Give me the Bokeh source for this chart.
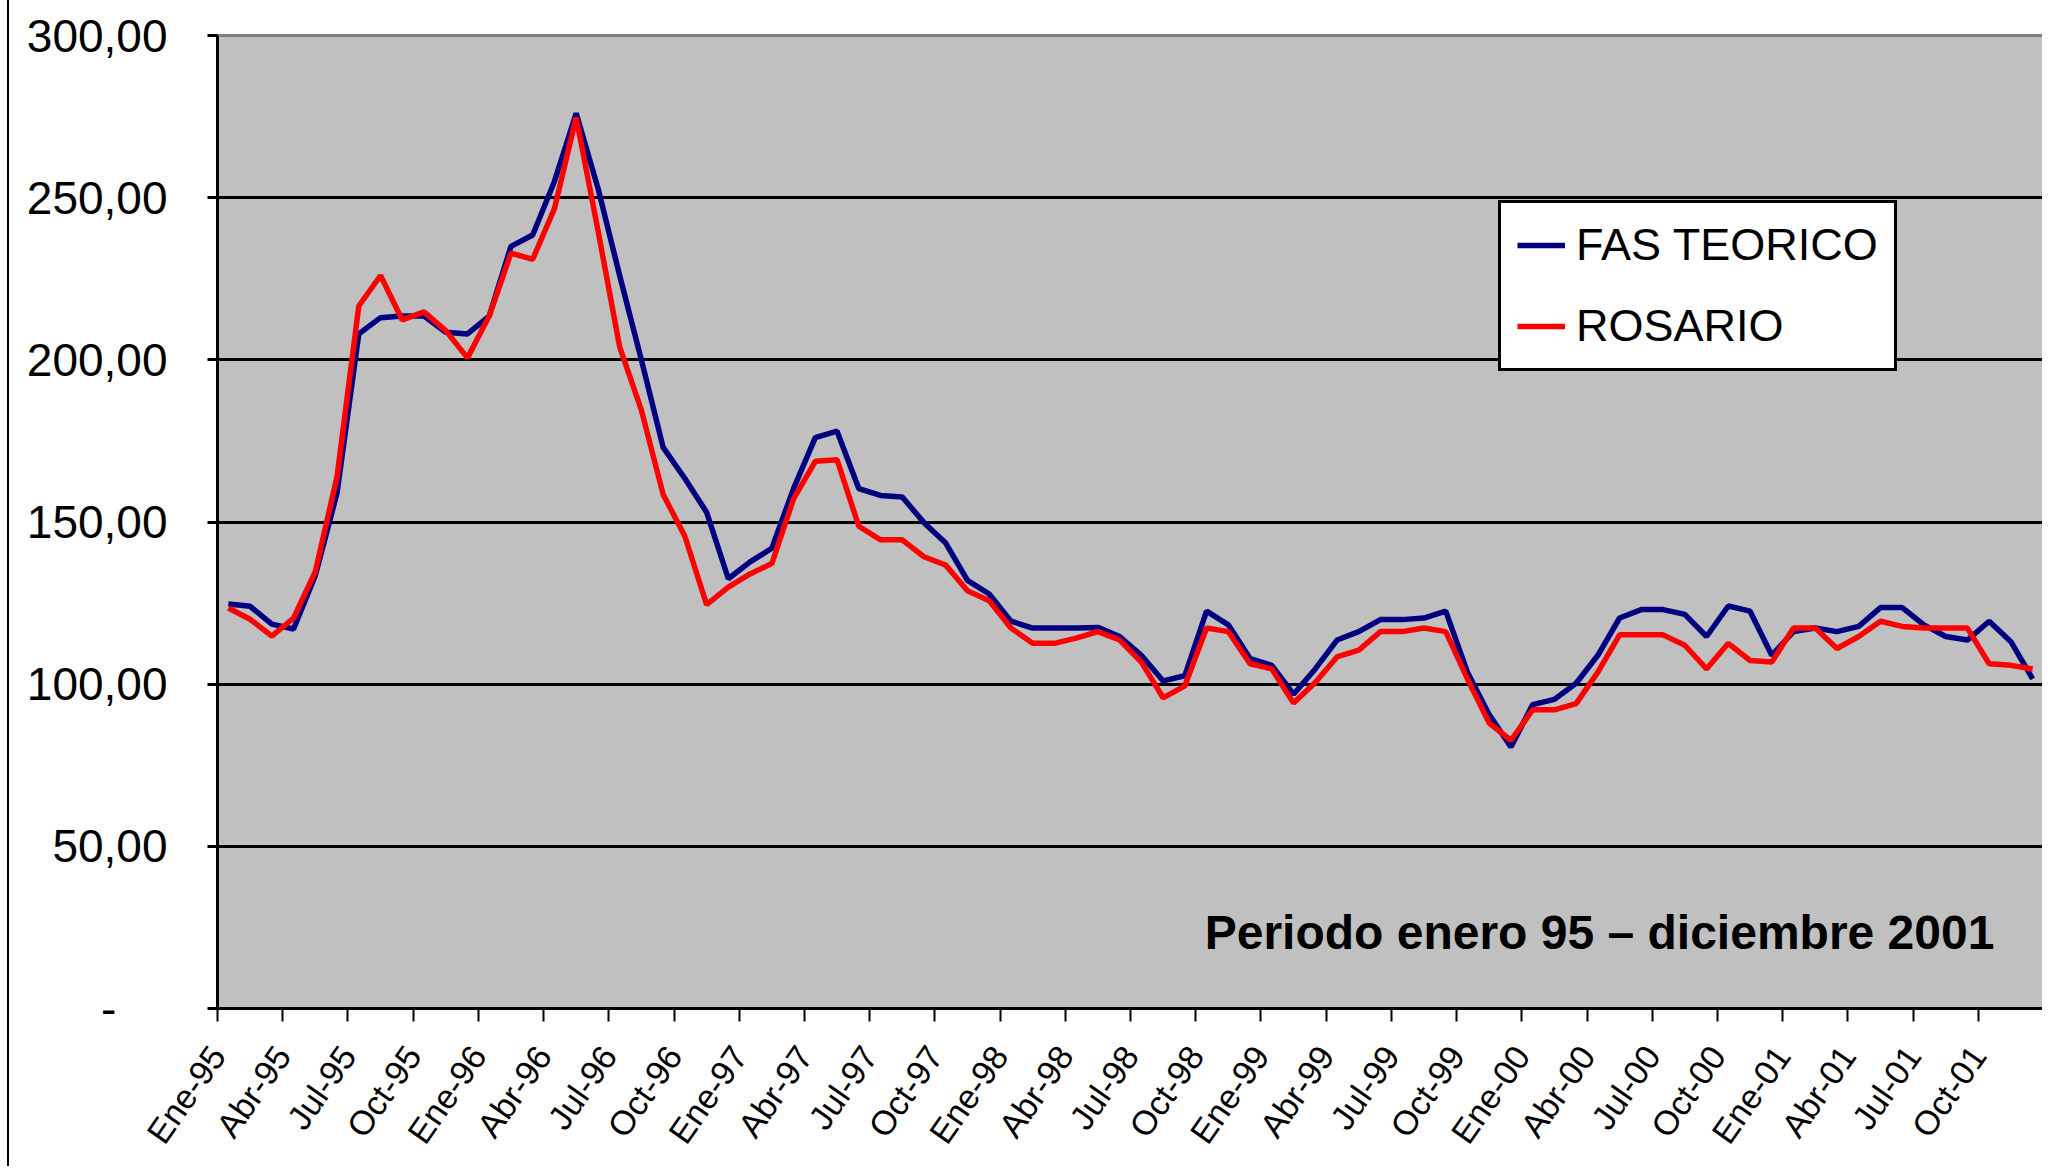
from bokeh.plotting import figure
from bokeh.models import FixedTicker, Legend, LegendItem, Label
from bokeh.embed import file_html
from bokeh.resources import INLINE

quarter_labels = ["Ene-95", "Abr-95", "Jul-95", "Oct-95",
                  "Ene-96", "Abr-96", "Jul-96", "Oct-96",
                  "Ene-97", "Abr-97", "Jul-97", "Oct-97",
                  "Ene-98", "Abr-98", "Jul-98", "Oct-98",
                  "Ene-99", "Abr-99", "Jul-99", "Oct-99",
                  "Ene-00", "Abr-00", "Jul-00", "Oct-00",
                  "Ene-01", "Abr-01", "Jul-01", "Oct-01"]

fas_teorico = [124.7, 124.0, 118.5, 117.0, 133.5, 159.0, 208.0, 213.0, 213.5, 213.5, 208.5, 208.0,
               213.5, 235.0, 238.5, 255.0, 276.0, 253.0, 226.0, 200.0, 173.0, 163.4, 153.0, 132.5,
               137.7, 141.9, 160.3, 176.0, 178.0, 160.3, 158.2, 157.7, 149.8, 143.5, 132.0, 127.8,
               119.4, 117.3, 117.3, 117.3, 117.5, 114.7, 108.9, 101.0, 102.6, 122.5, 118.3, 107.9,
               105.8, 96.9, 104.7, 113.6, 116.2, 119.9, 119.9, 120.4, 122.5, 103.7, 90.6, 80.6,
               93.7, 95.3, 100.3, 108.9, 120.4, 123.0, 123.0, 121.5, 114.7, 124.1, 122.5, 108.9,
               116.2, 117.3, 116.2, 117.8, 123.6, 123.6, 118.3, 114.7, 113.6, 119.4, 113.1, 101.6]

rosario = [123.5, 120.0, 114.8, 120.4, 134.7, 164.0, 216.6, 226.0, 212.3, 214.8, 209.0, 200.6,
           213.5, 232.9, 231.0, 246.6, 274.7, 240.0, 204.0, 184.5, 158.5, 145.6, 124.5, 129.9,
           134.0, 137.2, 157.1, 168.7, 169.2, 148.7, 144.5, 144.5, 139.3, 136.7, 128.8, 125.7,
           117.3, 112.6, 112.6, 114.2, 116.2, 113.6, 106.8, 95.8, 99.5, 117.3, 116.2, 106.3,
           104.7, 94.2, 100.5, 108.4, 110.5, 116.2, 116.2, 117.3, 116.2, 101.6, 88.0, 82.7,
           92.1, 92.1, 94.0, 103.7, 115.2, 115.2, 115.2, 112.0, 104.7, 112.6, 107.3, 106.8,
           117.3, 117.3, 111.0, 114.7, 119.4, 117.8, 117.3, 117.3, 117.3, 106.3, 105.8, 104.7]

y_ticks = [0, 50, 100, 150, 200, 250, 300]
y_tick_labels = ["-\u00a0\u00a0\u00a0\u00a0", "50,00", "100,00", "150,00", "200,00", "250,00", "300,00"]
series_names = ["FAS TEORICO", "ROSARIO"]
note_text = "Periodo enero 95 \u2013 diciembre 2001"

n = len(fas_teorico)
x = [i + 0.5 for i in range(n)]

FONT = "Liberation Sans"

p = figure(width=2035, height=1166, x_range=(0, n), y_range=(0, 300),
           output_backend="svg", toolbar_location=None,
           min_border_left=208, min_border_right=1, min_border_top=35, min_border_bottom=158)
p.styles = {"margin-left": "7px", "border-left": "2px solid black"}

p.background_fill_color = "#C0C0C0"
p.border_fill_color = "white"
p.outline_line_color = "#808080"
p.outline_line_width = 3

# x axis
p.xaxis.ticker = FixedTicker(ticks=list(range(0, n + 1, 3)))
overrides = {i * 3: lab for i, lab in enumerate(quarter_labels)}
overrides[n] = ""
p.xaxis.major_label_overrides = overrides
p.xaxis.major_label_orientation = 0.96
p.xaxis.major_label_text_font = FONT
p.xaxis.major_label_text_font_size = "34px"
p.xaxis.major_label_text_color = "black"
p.xaxis.major_label_standoff = 28
p.xaxis.axis_line_color = "black"
p.xaxis.axis_line_width = 3
p.xaxis.major_tick_line_color = "black"
p.xaxis.major_tick_line_width = 2
p.xaxis.major_tick_out = 13
p.xaxis.major_tick_in = 0
p.xaxis.minor_tick_line_color = None

# y axis
p.yaxis.ticker = FixedTicker(ticks=y_ticks)
p.yaxis.major_label_overrides = {t: lab for t, lab in zip(y_ticks, y_tick_labels)}
p.yaxis.major_label_text_font = FONT
p.yaxis.major_label_text_font_size = "46px"
p.yaxis.major_label_text_color = "black"
p.yaxis.major_label_standoff = 40
p.yaxis.axis_line_color = "black"
p.yaxis.axis_line_width = 3
p.yaxis.major_tick_line_color = "black"
p.yaxis.major_tick_line_width = 3
p.yaxis.major_tick_out = 10
p.yaxis.major_tick_in = 0
p.yaxis.minor_tick_line_color = None

p.xgrid.visible = False
p.ygrid.ticker = FixedTicker(ticks=[50, 100, 150, 200, 250])
p.ygrid.grid_line_color = "black"
p.ygrid.grid_line_width = 3

r1 = p.line(x, fas_teorico, line_color="#000080", line_width=5.5)
r2 = p.line(x, rosario, line_color="#FF0000", line_width=5.5)

legend = Legend(items=[LegendItem(label=series_names[0], renderers=[r1]),
                       LegendItem(label=series_names[1], renderers=[r2])],
                location=(1281, 637))
legend.border_line_color = "black"
legend.border_line_alpha = 1.0
legend.border_line_width = 3
legend.background_fill_color = "white"
legend.background_fill_alpha = 1.0
legend.label_text_font = FONT
legend.label_text_font_size = "45px"
legend.label_text_color = "black"
legend.glyph_width = 48
legend.glyph_height = 40
legend.label_standoff = 11
legend.padding = 16
legend.spacing = 29
legend.margin = 0
p.add_layout(legend)

note = Label(x=81.74, y=23.4, text=note_text, text_align="right", text_baseline="alphabetic",
             text_font=FONT, text_font_style="bold", text_font_size="48px", text_color="black")
p.add_layout(note)

open("out.html", "w").write(file_html(p, INLINE))
